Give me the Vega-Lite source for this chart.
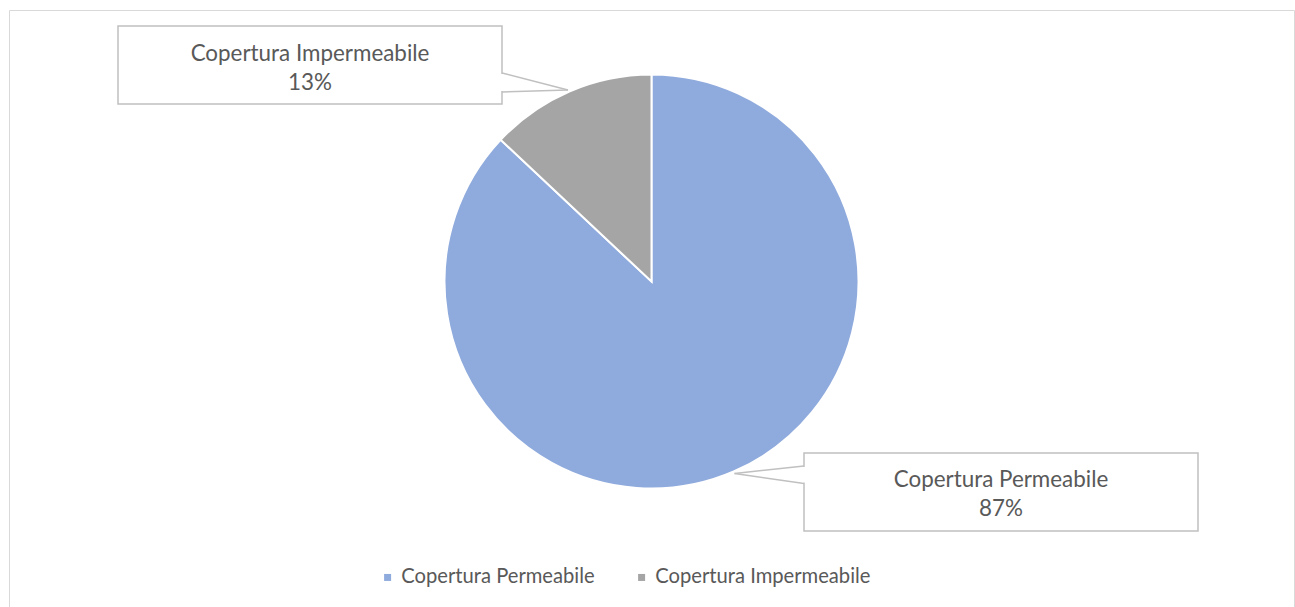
{
  "$schema": "https://vega.github.io/schema/vega-lite/v6.json",
  "width": 1285,
  "height": 597,
  "padding": {"left": 9, "top": 10, "right": 1, "bottom": 0},
  "autosize": {"type": "none"},
  "background": "white",
  "config": {"view": {"stroke": "#d9d9d9", "strokeWidth": 1}, "font": "Lato"},
  "data": {"values": [
    {"category": "Copertura Permeabile", "value": 0.87},
    {"category": "Copertura Impermeabile", "value": 0.13}
  ]},
  "layer": [
    {
      "mark": {"type": "arc", "outerRadius": 207, "stroke": "white", "strokeWidth": 2},
      "encoding": {
        "theta": {"field": "value", "type": "quantitative", "stack": true},
        "order": {"field": "category", "sort": "descending"},
        "color": {
          "field": "category", "type": "nominal",
          "scale": {"domain": ["Copertura Permeabile", "Copertura Impermeabile"], "range": ["#8FAADC", "#A5A5A5"]},
          "legend": {
            "orient": "none", "legendX": 368.5, "legendY": 557, "direction": "horizontal",
            "title": null, "symbolType": "square", "symbolSize": 49, "symbolStrokeWidth": 0,
            "labelFontSize": 20.2, "labelFont": "Lato", "labelColor": "#595959", "labelLimit": 500,
            "labelOffset": 3.5, "columnPadding": 36, "padding": 0
          }
        },
        "x": {"datum": 651.5, "type": "quantitative", "scale": {"domain": [9, 1294], "nice": false, "zero": false}, "axis": null},
        "y": {"datum": 281.5, "type": "quantitative", "scale": {"domain": [10, 607], "nice": false, "zero": false, "reverse": true}, "axis": null}
      }
    },
    {
      "data": {"values": [{}]},
      "mark": {"type": "rect", "fill": "white", "stroke": "#c0c0c0", "strokeWidth": 1.5},
      "encoding": {
        "x": {"datum": 118, "type": "quantitative"}, "x2": {"datum": 502},
        "y": {"datum": 26, "type": "quantitative"}, "y2": {"datum": 104}
      }
    },
    {
      "data": {"values": [{}]},
      "mark": {"type": "rule", "stroke": "#c0c0c0", "strokeWidth": 1.5},
      "encoding": {
        "x": {"datum": 502, "type": "quantitative"}, "x2": {"datum": 568},
        "y": {"datum": 73, "type": "quantitative"}, "y2": {"datum": 90}
      }
    },
    {
      "data": {"values": [{}]},
      "mark": {"type": "rule", "stroke": "#c0c0c0", "strokeWidth": 1.5},
      "encoding": {
        "x": {"datum": 568, "type": "quantitative"}, "x2": {"datum": 502},
        "y": {"datum": 90, "type": "quantitative"}, "y2": {"datum": 92}
      }
    },
    {
      "data": {"values": [{}]},
      "mark": {"type": "rule", "stroke": "white", "strokeWidth": 3},
      "encoding": {
        "x": {"datum": 502, "type": "quantitative"}, "x2": {"datum": 502},
        "y": {"datum": 74, "type": "quantitative"}, "y2": {"datum": 91}
      }
    },
    {
      "data": {"values": [{}]},
      "mark": {"type": "rect", "fill": "white", "stroke": "#c0c0c0", "strokeWidth": 1.5},
      "encoding": {
        "x": {"datum": 804, "type": "quantitative"}, "x2": {"datum": 1198},
        "y": {"datum": 453, "type": "quantitative"}, "y2": {"datum": 531}
      }
    },
    {
      "data": {"values": [{}]},
      "mark": {"type": "rule", "stroke": "#c0c0c0", "strokeWidth": 1.5},
      "encoding": {
        "x": {"datum": 804, "type": "quantitative"}, "x2": {"datum": 734.5},
        "y": {"datum": 466, "type": "quantitative"}, "y2": {"datum": 473.5}
      }
    },
    {
      "data": {"values": [{}]},
      "mark": {"type": "rule", "stroke": "#c0c0c0", "strokeWidth": 1.5},
      "encoding": {
        "x": {"datum": 734.5, "type": "quantitative"}, "x2": {"datum": 804},
        "y": {"datum": 473.5, "type": "quantitative"}, "y2": {"datum": 483.5}
      }
    },
    {
      "data": {"values": [{}]},
      "mark": {"type": "rule", "stroke": "white", "strokeWidth": 3},
      "encoding": {
        "x": {"datum": 804, "type": "quantitative"}, "x2": {"datum": 804},
        "y": {"datum": 467, "type": "quantitative"}, "y2": {"datum": 482.5}
      }
    },
    {
      "transform": [{"filter": "datum.category === 'Copertura Impermeabile'"}],
      "mark": {"type": "text", "align": "center", "baseline": "alphabetic", "fontSize": 22.4, "color": "#595959", "font": "Lato"},
      "encoding": {
        "text": {"field": "category"},
        "x": {"datum": 310, "type": "quantitative"},
        "y": {"datum": 60.5, "type": "quantitative"}
      }
    },
    {
      "transform": [{"filter": "datum.category === 'Copertura Impermeabile'"}],
      "mark": {"type": "text", "align": "center", "baseline": "alphabetic", "fontSize": 22.4, "color": "#595959", "font": "Lato"},
      "encoding": {
        "text": {"field": "value", "format": ".0%"},
        "x": {"datum": 310, "type": "quantitative"},
        "y": {"datum": 90, "type": "quantitative"}
      }
    },
    {
      "transform": [{"filter": "datum.category === 'Copertura Permeabile'"}],
      "mark": {"type": "text", "align": "center", "baseline": "alphabetic", "fontSize": 22.4, "color": "#595959", "font": "Lato"},
      "encoding": {
        "text": {"field": "category"},
        "x": {"datum": 1001, "type": "quantitative"},
        "y": {"datum": 486.5, "type": "quantitative"}
      }
    },
    {
      "transform": [{"filter": "datum.category === 'Copertura Permeabile'"}],
      "mark": {"type": "text", "align": "center", "baseline": "alphabetic", "fontSize": 22.4, "color": "#595959", "font": "Lato"},
      "encoding": {
        "text": {"field": "value", "format": ".0%"},
        "x": {"datum": 1001, "type": "quantitative"},
        "y": {"datum": 516, "type": "quantitative"}
      }
    }
  ]
}
